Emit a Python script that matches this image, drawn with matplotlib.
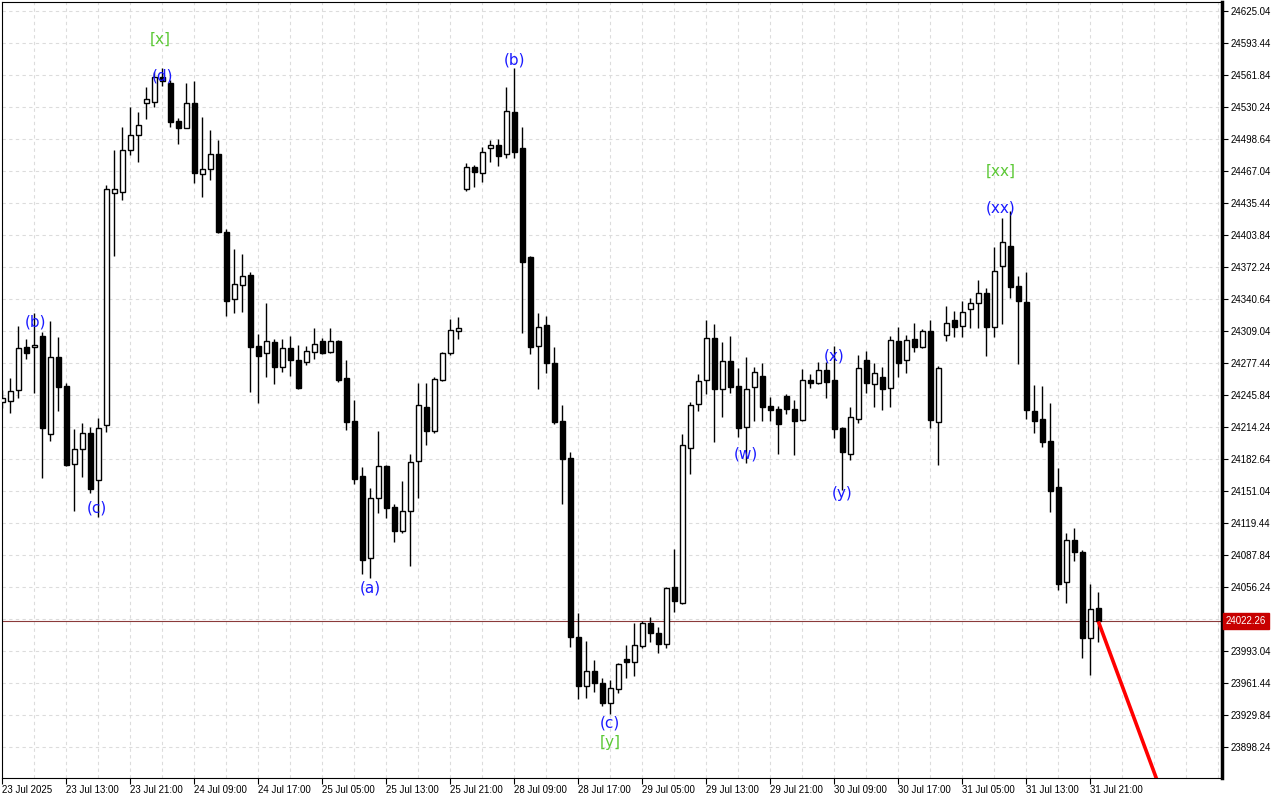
import matplotlib
matplotlib.use("Agg")
import matplotlib.pyplot as plt
from matplotlib.patches import Rectangle
import numpy as np

# hourly candles, bar index 0..137
opens = [
    24238.9, 24239.9, 24250.8, 24293.2, 24293.2, 24304.1, 24207.3, 24283.4, 24254.7, 24177.7,
    24192.5, 24208.3, 24161.9, 24216.2, 24445.3, 24446.3, 24487.8, 24502.6, 24534.2, 24535.2,
    24559.9, 24553.9, 24516.4, 24509.5, 24534.2, 24464.1, 24469.0, 24483.8, 24406.8, 24340.6,
    24354.5, 24364.3, 24294.2, 24287.3, 24298.2, 24273.5, 24292.3, 24280.4, 24278.4, 24288.3,
    24299.2, 24288.3, 24299.2, 24262.6, 24220.2, 24165.9, 24084.9, 24144.1, 24175.7, 24135.2,
    24111.5, 24131.3, 24180.7, 24234.0, 24210.3, 24260.6, 24287.3, 24309.0, 24449.3, 24471.0,
    24465.1, 24489.7, 24492.7, 24483.8, 24525.3, 24489.7, 24382.1, 24294.2, 24315.0, 24277.4,
    24220.2, 24183.6, 24006.9, 23958.5, 23973.3, 23961.4, 23941.7, 23955.5, 23985.1, 23982.2,
    23998.0, 24020.7, 24010.8, 23999.9, 24056.2, 24040.4, 24193.5, 24237.0, 24260.6, 24302.1,
    24251.8, 24279.4, 24254.7, 24214.2, 24253.7, 24264.6, 24235.0, 24232.0, 24244.9, 24232.0,
    24221.2, 24260.6, 24257.7, 24270.5, 24260.6, 24213.3, 24187.6, 24222.1, 24280.4, 24256.7,
    24263.6, 24252.8, 24299.2, 24280.4, 24301.1, 24293.2, 24309.0, 24219.2, 24305.1, 24319.9,
    24314.0, 24330.8, 24336.7, 24346.6, 24313.0, 24373.2, 24393.0, 24353.5, 24337.7, 24230.0,
    24222.1, 24200.4, 24155.0, 24061.2, 24102.6, 24090.8, 24005.9, 24035.5]
highs = [
    24250.8, 24262.6, 24314.0, 24301.1, 24326.8, 24308.0, 24318.9, 24303.1, 24257.7, 24212.3,
    24218.2, 24214.2, 24223.1, 24453.2, 24487.8, 24510.5, 24530.2, 24525.3, 24550.0, 24564.8,
    24568.8, 24556.9, 24519.4, 24553.9, 24555.9, 24520.4, 24507.5, 24497.7, 24409.8, 24390.0,
    24385.1, 24367.3, 24306.1, 24336.7, 24301.1, 24301.1, 24304.1, 24295.2, 24294.2, 24312.0,
    24302.1, 24312.0, 24300.2, 24280.4, 24240.9, 24174.7, 24154.0, 24210.3, 24176.7, 24138.2,
    24160.9, 24187.6, 24257.7, 24257.7, 24263.6, 24288.3, 24320.9, 24322.9, 24474.9, 24473.0,
    24490.7, 24497.7, 24498.6, 24550.0, 24568.8, 24510.5, 24383.1, 24326.8, 24323.9, 24293.2,
    24236.0, 24189.6, 24030.6, 24002.9, 23984.2, 23966.4, 23964.4, 23981.2, 23999.0, 24020.7,
    24022.7, 24026.6, 24016.7, 24056.2, 24093.8, 24207.3, 24238.9, 24266.6, 24319.9, 24316.0,
    24298.2, 24304.1, 24272.5, 24283.4, 24273.5, 24277.4, 24243.9, 24235.0, 24246.8, 24240.9,
    24271.5, 24266.6, 24278.4, 24278.4, 24294.2, 24214.2, 24234.0, 24285.3, 24289.3, 24277.4,
    24273.5, 24304.1, 24313.0, 24305.1, 24316.9, 24311.0, 24319.9, 24274.5, 24333.7, 24328.8,
    24338.7, 24341.6, 24359.4, 24351.5, 24392.0, 24420.6, 24427.5, 24363.4, 24367.3, 24255.7,
    24254.7, 24237.9, 24173.7, 24109.6, 24114.5, 24092.8, 24059.2, 24051.3]
lows = [
    24233.0, 24228.1, 24242.9, 24281.4, 24247.8, 24163.9, 24200.4, 24230.0, 24175.7, 24131.3,
    24164.9, 24149.1, 24125.4, 24209.3, 24383.1, 24438.4, 24482.8, 24475.9, 24518.4, 24530.2,
    24551.0, 24510.5, 24493.7, 24509.5, 24455.2, 24441.4, 24458.2, 24405.8, 24323.9, 24326.8,
    24327.8, 24248.8, 24237.9, 24263.6, 24256.7, 24268.6, 24264.6, 24251.8, 24275.5, 24281.4,
    24286.3, 24287.3, 24258.7, 24211.3, 24157.9, 24069.1, 24065.1, 24129.3, 24124.4, 24100.7,
    24109.6, 24077.0, 24144.1, 24196.5, 24208.3, 24259.7, 24285.3, 24301.1, 24447.3, 24451.2,
    24456.2, 24475.9, 24472.0, 24479.9, 24479.9, 24307.1, 24286.3, 24251.8, 24267.6, 24217.2,
    24138.2, 23997.0, 23945.6, 23946.6, 23952.6, 23938.7, 23930.8, 23951.6, 23966.4, 23968.3,
    23996.0, 24001.9, 23991.1, 23996.0, 24031.5, 24039.5, 24167.8, 24230.0, 24246.8, 24199.4,
    24224.1, 24247.8, 24204.4, 24178.7, 24220.2, 24220.2, 24220.2, 24187.6, 24227.1, 24186.6,
    24220.2, 24252.8, 24256.7, 24242.9, 24203.4, 24152.0, 24181.7, 24218.2, 24247.8, 24234.0,
    24231.0, 24234.0, 24263.6, 24267.6, 24288.3, 24292.3, 24213.3, 24176.7, 24299.2, 24303.1,
    24303.1, 24312.0, 24312.0, 24284.4, 24303.1, 24316.0, 24341.6, 24276.5, 24222.1, 24208.3,
    24194.5, 24130.3, 24053.3, 24040.4, 24081.9, 23986.1, 23969.3, 24001.9]
closes = [
    24242.9, 24249.8, 24292.3, 24287.3, 24295.2, 24213.3, 24283.4, 24253.7, 24176.7, 24192.5,
    24208.3, 24153.0, 24213.3, 24449.3, 24449.3, 24487.8, 24502.6, 24512.5, 24538.1, 24559.9,
    24555.9, 24515.4, 24509.5, 24534.2, 24465.1, 24469.0, 24483.8, 24406.8, 24338.7, 24355.5,
    24363.4, 24293.2, 24284.4, 24299.2, 24273.5, 24292.3, 24280.4, 24252.8, 24289.3, 24296.2,
    24287.3, 24299.2, 24260.6, 24219.2, 24162.9, 24082.9, 24144.1, 24175.7, 24134.2, 24111.5,
    24131.3, 24179.7, 24236.0, 24210.3, 24261.6, 24287.3, 24310.0, 24312.0, 24471.0, 24466.0,
    24485.8, 24492.7, 24481.8, 24526.3, 24485.8, 24377.2, 24293.2, 24313.0, 24277.4, 24219.2,
    24182.6, 24006.9, 23958.5, 23973.3, 23961.4, 23941.7, 23956.5, 23980.2, 23982.2, 23999.0,
    24020.7, 24010.8, 23999.9, 24055.2, 24042.4, 24196.5, 24236.0, 24259.7, 24302.1, 24251.8,
    24279.4, 24253.7, 24213.3, 24251.8, 24268.6, 24234.0, 24231.0, 24217.2, 24232.0, 24220.2,
    24260.6, 24257.7, 24270.5, 24258.7, 24212.3, 24189.6, 24224.1, 24272.5, 24257.7, 24267.6,
    24251.8, 24300.2, 24277.4, 24300.2, 24293.2, 24309.0, 24221.2, 24272.5, 24316.9, 24313.0,
    24327.8, 24336.7, 24346.6, 24313.0, 24368.3, 24396.9, 24352.5, 24338.7, 24231.0, 24220.2,
    24199.4, 24151.0, 24059.2, 24102.6, 24090.8, 24005.9, 24034.5, 24022.26]

time_labels = ["23 Jul 2025", "23 Jul 13:00", "23 Jul 21:00", "24 Jul 09:00", "24 Jul 17:00",
               "25 Jul 05:00", "25 Jul 13:00", "25 Jul 21:00", "28 Jul 09:00", "28 Jul 17:00",
               "29 Jul 05:00", "29 Jul 13:00", "29 Jul 21:00", "30 Jul 09:00", "30 Jul 17:00",
               "31 Jul 05:00", "31 Jul 13:00", "31 Jul 21:00"]
price_ticks = [24625.04, 24593.44, 24561.84, 24530.24, 24498.64, 24467.04, 24435.44, 24403.84,
               24372.24, 24340.64, 24309.04, 24277.44, 24245.84, 24214.24, 24182.64, 24151.04,
               24119.44, 24087.84, 24056.24, 24024.64, 23993.04, 23961.44, 23929.84, 23898.24]
last_price = 24022.26

# wave marks: text, bar, price, colour kind
wave_text = ["(b)", "(c)", "[x]", "(d)", "(a)", "(b)", "(c)", "[y]", "(w)", "(x)", "(y)", "[xx]", "(xx)"]
wave_bar = [4.1, 11.8, 19.8, 20.0, 46.0, 64.0, 76.0, 76.0, 93.0, 104.0, 105.0, 124.8, 124.8]
wave_price = [24317.9, 24134.2, 24597.4, 24560.9, 24055.2, 24576.6, 23921.9, 23902.2,
              24187.6, 24284.4, 24148.1, 24467.0, 24430.5]
wave_green = [False, False, True, False, False, False, False, True, False, False, False, True, False]

# forecast line
proj_bar = [137, 146]
proj_price = [last_price, 23830.0]

tick_font = ["Liberation Sans", "DejaVu Sans"]

fig = plt.figure(figsize=(12.8, 8), dpi=100)
ax = fig.add_axes([2 / 1280, 22 / 800, 1220 / 1280, 776 / 800])

n = len(opens)
xs = np.arange(n)
ax.vlines(xs, lows, highs, color="black", lw=1, zorder=2)
w = 0.62
for i in range(n):
    o, c = opens[i], closes[i]
    bull = c >= o
    lo, hi = min(o, c), max(o, c)
    ax.add_patch(Rectangle((i - w / 2, lo), w, max(hi - lo, 0.8),
                           facecolor="white" if bull else "black",
                           edgecolor="black", lw=1, zorder=3))

ax.axhline(last_price, color="#8b3a3a", lw=0.8, zorder=1)
ax.plot(proj_bar, proj_price, color="#ff0000", lw=2.6, zorder=4, solid_capstyle="butt")

for t, b, p, g in zip(wave_text, wave_bar, wave_price, wave_green):
    ax.text(b, p, t, color="#5cc936" if g else "#1a1aff", fontsize=11,
            ha="center", va="center", zorder=5)

ax.set_xlim(-0.04, 152.46)
ax.set_ylim(23867.6, 24633.9)

# grid every 4 bars, labels every 8
for gx in range(0, 153, 4):
    ax.axvline(gx, color="#dcdcdc", lw=0.8, ls=(0, (3, 3)), zorder=0)
for gy in price_ticks:
    ax.axhline(gy, color="#dcdcdc", lw=0.8, ls=(0, (3, 3)), zorder=0)

ax.set_xticks(np.arange(0, 8 * len(time_labels), 8))
ax.set_xticklabels(time_labels, fontsize=7, family=tick_font)
for lab in ax.get_xticklabels():
    lab.set_ha("left")
ax.tick_params(axis="x", length=4, pad=1, width=0.8)

ax.yaxis.tick_right()
ax.set_yticks(price_ticks)
ax.set_yticklabels(["" if abs(v - 24024.64) < 0.01 else f"{v:.2f}" for v in price_ticks],
                   fontsize=7, family=tick_font)
ax.tick_params(axis="y", length=4, pad=2, width=0.8)

ax.text(1.003, last_price, f"{last_price:.2f}", transform=ax.get_yaxis_transform(),
        ha="left", va="center", fontsize=7, color="white", family=tick_font,
        bbox=dict(boxstyle="square,pad=0.3", facecolor="#c80000", edgecolor="#c80000"))

for s in ["top", "left", "bottom"]:
    ax.spines[s].set_linewidth(0.8)
ax.spines["right"].set_linewidth(2.5)

fig.savefig("out.png", dpi=100, facecolor="white")
